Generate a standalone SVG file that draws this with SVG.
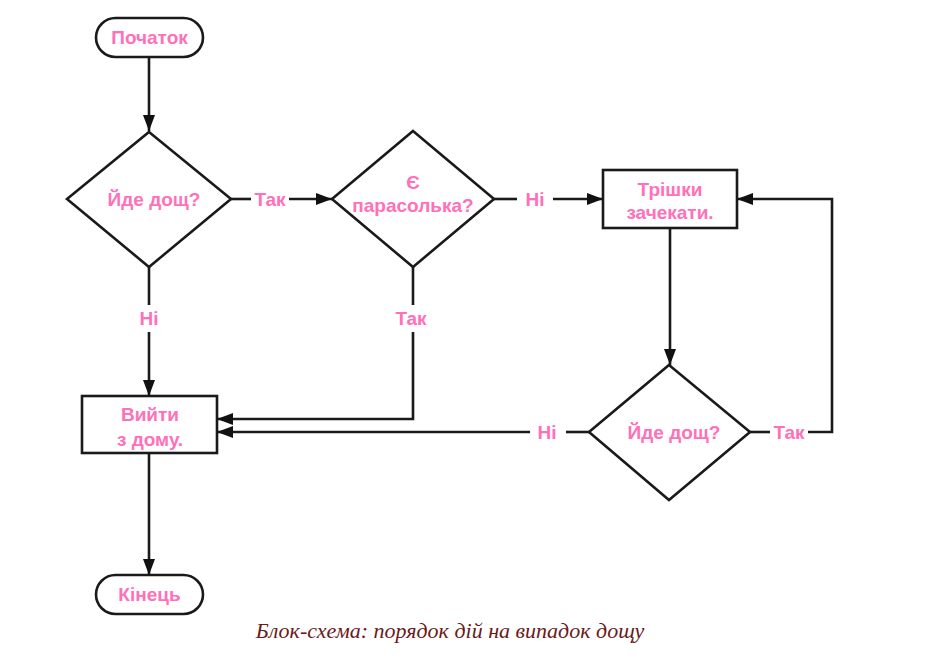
<svg xmlns="http://www.w3.org/2000/svg" width="940" height="667" viewBox="0 0 940 667">
<defs>
<style>
.shape{fill:#fff;stroke:#1a1a1a;stroke-width:2.6}
.line{fill:none;stroke:#1a1a1a;stroke-width:2.6}
.t{font-family:"Liberation Sans",Arial,sans-serif;font-size:19px;font-weight:bold;fill:#ff70b8;text-anchor:middle}
.cap{font-family:"Liberation Serif","Times New Roman",serif;font-style:italic;font-size:22px;fill:#6b1a1a;text-anchor:middle}
</style>
<marker id="ah" markerWidth="16" markerHeight="12" refX="16" refY="6" orient="auto" markerUnits="userSpaceOnUse">
<path d="M0,0 L16,6 L0,12 Z" fill="#111"/>
</marker>
</defs>
<rect width="940" height="667" fill="#fff"/>
<g id="connectors">
<line class="line" x1="149" y1="57" x2="149" y2="131" marker-end="url(#ah)"/>
<line class="line" x1="231" y1="199" x2="251" y2="199"/>
<line class="line" x1="289" y1="199" x2="332" y2="199" marker-end="url(#ah)"/>
<text class="t" x="270" y="206">Так</text>
<line class="line" x1="494" y1="199" x2="517" y2="199"/>
<line class="line" x1="553" y1="199" x2="603" y2="199" marker-end="url(#ah)"/>
<text class="t" x="535" y="206">Ні</text>
<line class="line" x1="149" y1="267" x2="149" y2="305"/>
<line class="line" x1="149" y1="332" x2="149" y2="396" marker-end="url(#ah)"/>
<text class="t" x="149" y="325">Ні</text>
<polyline class="line" points="413,267 413,305"/>
<polyline class="line" points="413,332 413,419 217,419" marker-end="url(#ah)"/>
<text class="t" x="411" y="325">Так</text>
<line class="line" x1="670" y1="228" x2="670" y2="365" marker-end="url(#ah)"/>
<line class="line" x1="750" y1="432" x2="770" y2="432"/>
<polyline class="line" points="808,432 832,432 832,199 737,199" marker-end="url(#ah)"/>
<text class="t" x="789" y="439">Так</text>
<line class="line" x1="589" y1="432" x2="566" y2="432"/>
<line class="line" x1="530" y1="432" x2="217" y2="432" marker-end="url(#ah)"/>
<text class="t" x="547" y="439">Ні</text>
<line class="line" x1="149" y1="453" x2="149" y2="575" marker-end="url(#ah)"/>
</g>
<g id="start">
<rect class="shape" x="96" y="18" width="107" height="39" rx="19.5"/>
<text class="t" x="149.5" y="44">Початок</text>
</g>
<g id="rain1">
<polygon class="shape" points="149,132 231,199 149,267 67,199"/>
<text class="t" x="154" y="206">Йде дощ?</text>
</g>
<g id="umbrella">
<polygon class="shape" points="413,131 494,199 413,267 332,199"/>
<text class="t" x="413" y="189">Є</text>
<text class="t" x="413" y="212">парасолька?</text>
</g>
<g id="wait">
<rect class="shape" x="603" y="170" width="134" height="58"/>
<text class="t" x="670" y="196">Трішки</text>
<text class="t" x="670" y="219">зачекати.</text>
</g>
<g id="rain2">
<polygon class="shape" points="669,365 750,432 669,500 589,432"/>
<text class="t" x="674" y="439">Йде дощ?</text>
</g>
<g id="leave">
<rect class="shape" x="82" y="396" width="135" height="57"/>
<text class="t" x="150" y="421">Вийти</text>
<text class="t" x="150" y="446">з дому.</text>
</g>
<g id="end">
<rect class="shape" x="96" y="575" width="107" height="39" rx="19.5"/>
<text class="t" x="149.5" y="601">Кінець</text>
</g>
<text class="cap" x="450" y="638">Блок-схема: порядок дій на випадок дощу</text>
</svg>
